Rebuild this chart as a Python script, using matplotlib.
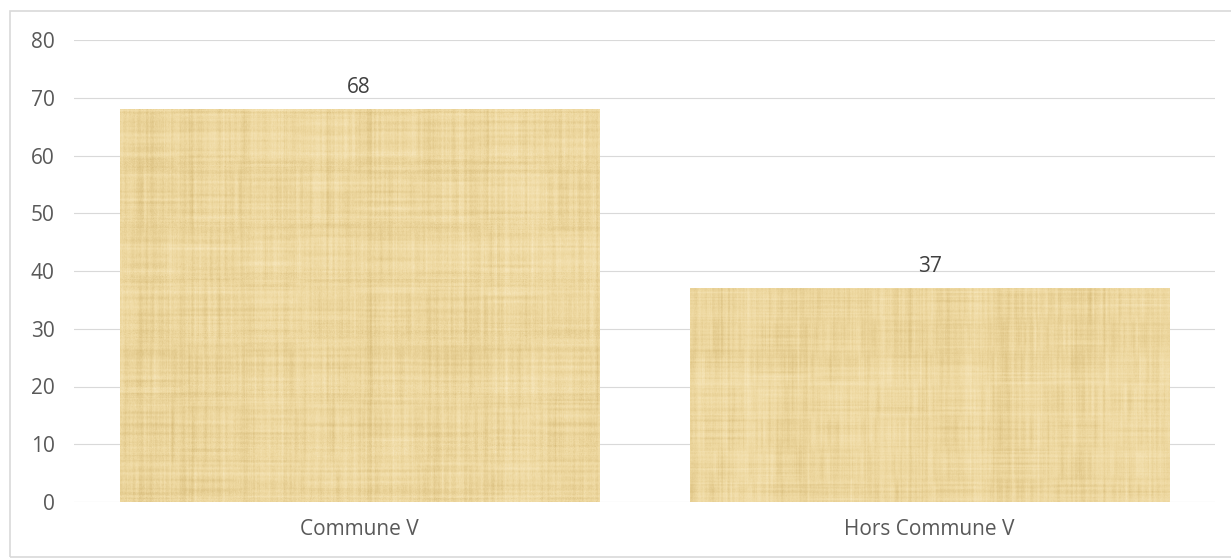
import numpy as np
import matplotlib
matplotlib.use("Agg")
import matplotlib.pyplot as plt
from matplotlib.patches import Rectangle

categories = ["Commune V", "Hors Commune V"]
valeurs = [68, 37]
yticks = [0, 10, 20, 30, 40, 50, 60, 70, 80]

plt.rcParams['font.family'] = ['Open Sans', 'DejaVu Sans']


def texture_papyrus(h, w, seed):
    # fibres verticales + horizontales et zones plus claires/foncées
    rng = np.random.default_rng(seed)
    def lisse(v, k):
        noyau = np.ones(k) / k
        return np.convolve(v, noyau, mode='same')
    col = lisse(rng.normal(0, 1, w), 2) * 0.5 + lisse(rng.normal(0, 1, w), 30) * 1.0
    lig = lisse(rng.normal(0, 1, h), 2) * 0.5 + lisse(rng.normal(0, 1, h), 30) * 1.0
    # bandes courtes : fibres qui se croisent
    bandes_v = rng.normal(0, 1, (h // 60 + 1, w))
    bandes_v = np.repeat(bandes_v, 60, axis=0)[:h]
    bandes_v = np.apply_along_axis(lisse, 0, bandes_v, 31)
    bandes_v = np.apply_along_axis(lisse, 1, bandes_v, 3)
    bandes_h = rng.normal(0, 1, (h, w // 60 + 1))
    bandes_h = np.repeat(bandes_h, 60, axis=1)[:, :w]
    bandes_h = np.apply_along_axis(lisse, 1, bandes_h, 31)
    bandes_h = np.apply_along_axis(lisse, 0, bandes_h, 3)
    fin = rng.normal(0, 1, (h, w)) * 0.3
    champ = col[None, :] + lig[:, None] + fin + (bandes_v + bandes_h) * 0.7
    champ = champ / np.abs(champ).max()
    base = np.array([238, 216, 160]) / 255.0
    clair = np.array([250, 236, 198]) / 255.0
    fonce = np.array([214, 186, 120]) / 255.0
    t = champ[..., None]
    img = np.where(t > 0, base + (clair - base) * t, base + (base - fonce) * t)
    return np.clip(img, 0, 1)


fig = plt.figure(figsize=(12.31, 5.58), dpi=100)
fig.patches.append(Rectangle((10 / 1231, 1 - 557 / 558), 1.2, (557 - 11) / 558,
                             transform=fig.transFigure, fill=False,
                             edgecolor='#d9d9d9', linewidth=1.2))
ax = fig.add_axes([74 / 1231, 1 - 502 / 558, (1215 - 74) / 1231, (502 - 40) / 558])

x = np.arange(len(categories))
barres = ax.bar(x, valeurs, width=0.84, color='none', edgecolor='none', zorder=2)

for i, b in enumerate(barres):
    x0, y0 = b.get_x(), b.get_y()
    img = texture_papyrus(400, 480, seed=7 + i)
    ax.imshow(img, extent=[x0, x0 + b.get_width(), y0, y0 + b.get_height()],
              aspect='auto', zorder=2, interpolation='bilinear')

ax.bar_label(barres, labels=[str(v) for v in valeurs], padding=8,
             fontsize=15, color='#404040')

ax.set_xlim(-0.5, len(categories) - 0.5)
ax.set_ylim(0, 80)
ax.set_yticks(yticks)
ax.set_xticks(x)
ax.set_xticklabels(categories)
ax.grid(axis='y', color='#d9d9d9', linewidth=0.8, zorder=0)
ax.set_axisbelow(True)
ax.tick_params(axis='y', length=0, pad=14, labelsize=15, labelcolor='#595959')
ax.tick_params(axis='x', length=0, pad=12, labelsize=15, labelcolor='#595959')
for s in ax.spines.values():
    s.set_visible(False)

fig.savefig("out.png", dpi=100)
